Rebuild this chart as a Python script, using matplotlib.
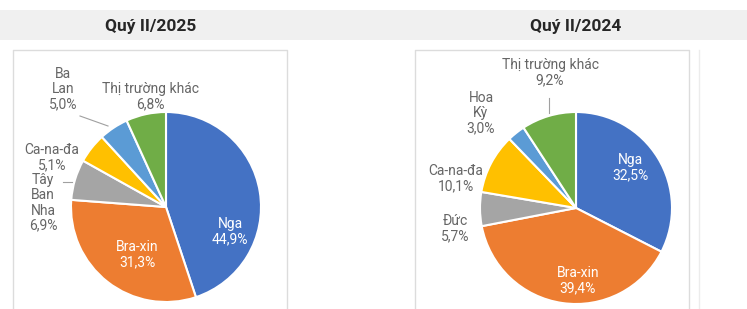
import matplotlib.pyplot as plt
from matplotlib.patches import Rectangle

plt.rcParams['font.family'] = ['Roboto', 'DejaVu Sans']

# du lieu
titles = ['Quý II/2025', 'Quý II/2024']
labels_2025 = ['Nga', 'Bra-xin', 'Tây\nBan\nNha', 'Ca-na-đa', 'Ba\nLan', 'Thị trường khác']
values_2025 = [44.9, 31.3, 6.9, 5.1, 5.0, 6.8]
labels_2024 = ['Nga', 'Bra-xin', 'Đức', 'Ca-na-đa', 'Hoa\nKỳ', 'Thị trường khác']
values_2024 = [32.5, 39.4, 5.7, 10.1, 3.0, 9.2]

colors = ['#4472C4', '#ED7D31', '#A5A5A5', '#FFC000', '#5B9BD5', '#70AD47']
W, H = 747, 309

fig = plt.figure(figsize=(W / 100, H / 100), dpi=100)
ax = fig.add_axes([0, 0, 1, 1])

# bang tieu de xam
ax.add_patch(Rectangle((0, H - 40), W, 30, facecolor='#f0f0f0', edgecolor='none', zorder=0))
# khung
for x0, x1 in [(13, 287), (415, 689)]:
    ax.plot([x0, x0, x1, x1], [0, H - 50, H - 50, 0], color='#dcdcdc', lw=1, zorder=1)
ax.plot([699, 699], [0, H - 50], color='#ececec', lw=1, zorder=1)

ax.text(151, H - 26, titles[0], ha='center', va='center', fontsize=12.5, fontweight='bold', color='#262626')
ax.text(576, H - 27, titles[1], ha='center', va='center', fontsize=12.5, fontweight='bold', color='#262626')

# vi tri nhan (pixel, tinh tu tam banh)
pies = [
    ((166, H - 207), 95, labels_2025, values_2025,
     [(64, -25), (-29, -48), (-123, 4), (-114, 49), (-103, 118), (-16, 110)]),
    ((576, H - 208), 96, labels_2024, values_2024,
     [(54, 40), (2, -73), (-121, -21), (-120, 29), (-95, 95), (-26, 135)]),
]

for center, r, labels, values, offs in pies:
    ax.pie(values, colors=colors, startangle=90, counterclock=False, center=center, radius=r,
           wedgeprops=dict(edgecolor='white', linewidth=1.5), frame=True)
    for i, (lab, v) in enumerate(zip(labels, values)):
        txt = lab + '\n' + f'{v:.1f}'.replace('.', ',') + '%'
        inside = i < 2
        ax.text(center[0] + offs[i][0], center[1] + offs[i][1], txt, ha='center', va='center',
                fontsize=10, color='white' if inside else '#666666', linespacing=1.1, zorder=5)

ax.set_xlim(0, W)
ax.set_ylim(0, H)
ax.set_aspect('equal')
ax.axis('off')

# duong dan
ax.plot([80, 108], [H - 116, H - 126], color='#a0a0a0', lw=0.8)
ax.plot([63, 72], [H - 182, H - 182], color='#a0a0a0', lw=0.8)
ax.plot([549, 549], [H - 98, H - 113], color='#a0a0a0', lw=0.8)

plt.savefig('out.png', dpi=100)
